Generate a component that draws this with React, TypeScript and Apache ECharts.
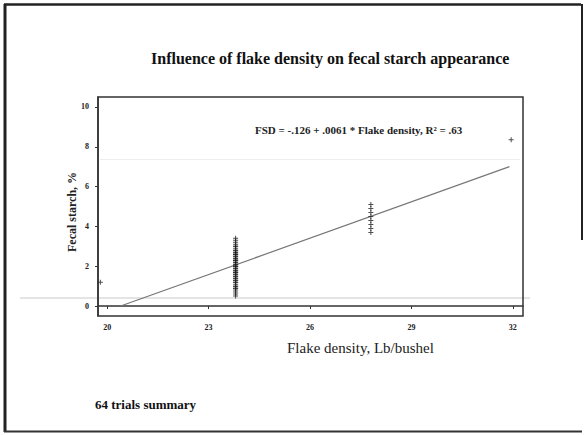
import React, { useEffect, useRef } from "react";
import * as echarts from "echarts";

const titleText = "Influence of flake density on fecal starch appearance";
const equationText = "FSD = -.126 + .0061 * Flake density, R\u00b2 = .63";
const xAxisName = "Flake density, Lb/bushel";
const yAxisName = "Fecal starch, %";
const footnote = "64 trials summary";

const xTicks = [20, 23, 26, 29, 32];
const yTicks = [0, 2, 4, 6, 8, 10];

// observed trials (flake density, fecal starch %)
const lowDensityX = 23.8;
const lowDensityY = [
  0.5, 0.6, 0.7, 0.8, 0.9, 1.0, 1.0, 1.1, 1.2, 1.2, 1.3, 1.4, 1.4, 1.5, 1.5, 1.6,
  1.6, 1.7, 1.7, 1.8, 1.8, 1.9, 1.9, 2.0, 2.0, 2.1, 2.1, 2.2, 2.2, 2.3, 2.3, 2.4,
  2.4, 2.5, 2.5, 2.6, 2.6, 2.7, 2.7, 2.8, 2.8, 2.9, 3.0, 3.0, 3.1, 3.2, 3.3, 3.4,
  1.3, 1.7, 2.0, 2.3, 2.6, 0.9,
];
const highDensityX = 27.8;
const highDensityY = [3.7, 3.9, 4.1, 4.3, 4.5, 4.7, 4.9, 5.1];
const otherX = [19.8, 31.95];
const otherY = [1.2, 8.35];

// fitted regression line endpoints
const fitX = [20.4, 31.9];
const fitY = [0.0, 7.0];

const plusSymbol = "path://M4,0h2v4h4v2h-4v4h-2v-4h-4v-2h4z";

export default function App() {
  const ref = useRef<HTMLDivElement>(null);
  useEffect(() => {
    if (!ref.current) return;
    const chart = echarts.init(ref.current, null, { renderer: "svg" });
    const points: number[][] = [];
    lowDensityY.forEach((y) => points.push([lowDensityX, y]));
    highDensityY.forEach((y) => points.push([highDensityX, y]));
    otherX.forEach((x, i) => points.push([x, otherY[i]]));
    const serif = "'Liberation Serif', 'DejaVu Serif', serif";
    chart.setOption({
      animation: false,
      backgroundColor: "#ffffff",
      grid: {
        left: 98,
        top: 97,
        right: 61,
        bottom: 119,
        show: true,
        borderColor: "#333",
        borderWidth: 1.5,
      },
      xAxis: {
        type: "value",
        min: 19.73,
        max: 32.3,
        axisLine: { show: true, lineStyle: { color: "#333", width: 1.5 } },
        axisTick: { show: true, customValues: xTicks, length: 3, lineStyle: { color: "#333" } },
        axisLabel: {
          customValues: xTicks,
          fontFamily: serif,
          fontSize: 8,
          fontWeight: "bold",
          color: "#222",
          margin: 7,
        },
        splitLine: { show: false },
      },
      yAxis: {
        type: "value",
        min: -0.5,
        max: 10.5,
        axisLine: { show: true, lineStyle: { color: "#333", width: 1.5 } },
        axisTick: { show: true, customValues: yTicks, length: 3, lineStyle: { color: "#333" } },
        axisLabel: {
          customValues: yTicks,
          fontFamily: serif,
          fontSize: 8,
          fontWeight: "bold",
          color: "#222",
          margin: 9,
        },
        splitLine: { show: false },
      },
      series: [
        {
          type: "line",
          data: fitX.map((x, i) => [x, fitY[i]]),
          showSymbol: false,
          lineStyle: { color: "#777", width: 1.2 },
          z: 2,
        },
        {
          type: "scatter",
          data: points,
          symbol: plusSymbol,
          symbolSize: 5,
          itemStyle: { color: "#222" },
          z: 3,
        },
      ],
      graphic: [
        { type: "rect", shape: { x: 20, y: 297, width: 510, height: 2 }, style: { fill: "#e4e4e4" }, z: -1 },
        { type: "rect", shape: { x: 100, y: 159, width: 420, height: 1 }, style: { fill: "#eeeeee" }, z: -1 },
        {
          type: "text",
          left: 151,
          top: 50,
          style: { text: titleText, font: `bold 16px ${serif}`, fill: "#111" },
        },
        {
          type: "text",
          left: 255,
          top: 124,
          style: { text: equationText, font: `bold 11px ${serif}`, fill: "#222" },
        },
        {
          type: "text",
          left: 287,
          top: 340,
          style: { text: xAxisName, font: `15px ${serif}`, fill: "#222" },
        },
        {
          type: "text",
          x: 66,
          y: 252,
          rotation: Math.PI / 2,
          style: { text: yAxisName, font: `bold 12px ${serif}`, fill: "#222" },
        },
        {
          type: "text",
          left: 95,
          top: 398,
          style: { text: footnote, font: `bold 13px ${serif}`, fill: "#111" },
        },
        { type: "line", shape: { x1: 5, y1: 4, x2: 5, y2: 432 }, style: { stroke: "#222", lineWidth: 3 } },
        { type: "line", shape: { x1: 4, y1: 4.5, x2: 581, y2: 4.5 }, style: { stroke: "#222", lineWidth: 2.5 } },
        { type: "line", shape: { x1: 4, y1: 431.5, x2: 582, y2: 431.5 }, style: { stroke: "#333", lineWidth: 2 } },
        { type: "line", shape: { x1: 582, y1: 4, x2: 582, y2: 240 }, style: { stroke: "#222", lineWidth: 2 } },
      ],
    });
    return () => chart.dispose();
  }, []);
  return (
    <div
      ref={ref}
      style={{ position: "fixed", left: 0, top: 0, width: 584, height: 435 }}
    />
  );
}
